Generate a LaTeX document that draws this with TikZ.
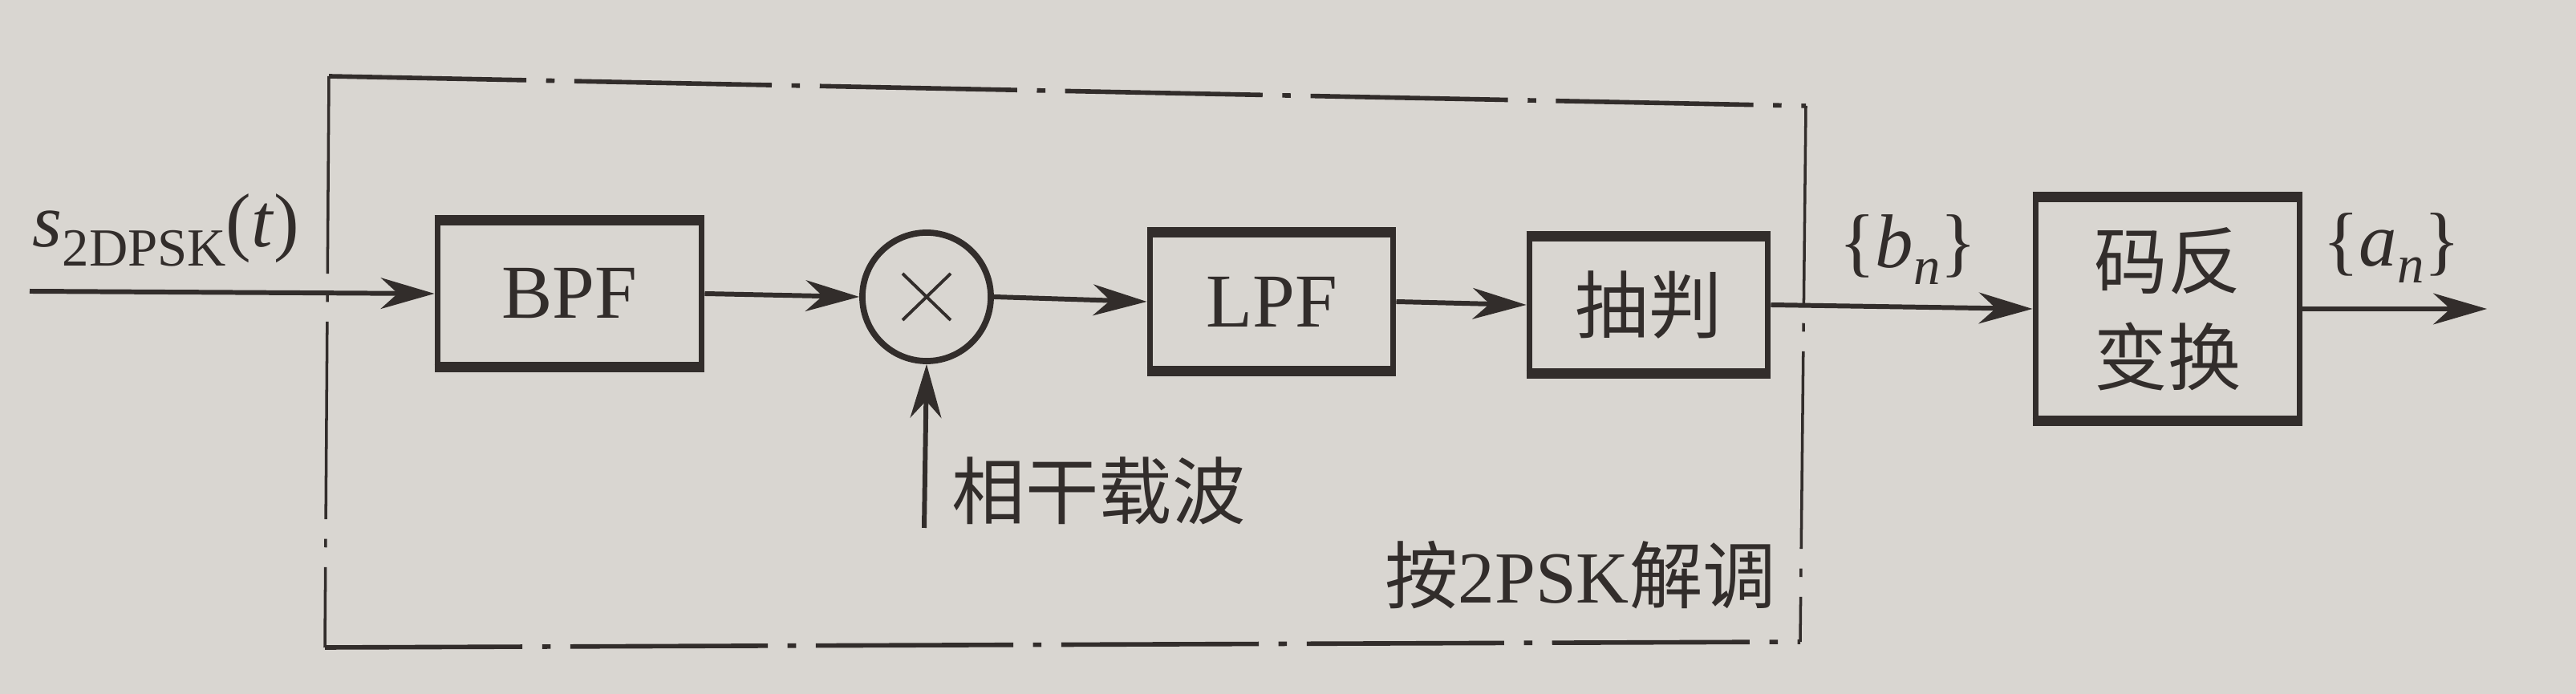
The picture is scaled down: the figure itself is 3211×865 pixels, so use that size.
\documentclass[tikz,border=0pt]{standalone}
\usepackage{fontspec}
\setmainfont{Liberation Serif}
\newfontfamily\cjk{Noto Sans CJK SC}
\usetikzlibrary{arrows.meta}
\definecolor{ink}{RGB}{50,45,43}
\definecolor{paper}{RGB}{217,214,209}
\newcommand{\latf}{\fontsize{27}{32}\selectfont}
\newcommand{\zhf}{\cjk\fontsize{26}{34}\selectfont}
\tikzset{
  blk/.style={draw=ink, line width=2.2pt, text=ink, inner sep=0pt},
  topedge/.style={draw=ink, line width=3pt},
  conn/.style={draw=ink, line width=1.7pt, -{Stealth[length=19pt,width=11pt,inset=6pt]}},
  mulc/.style={circle, draw=ink, line width=2.2pt, minimum size=1.6cm, inner sep=0pt},
  xline/.style={draw=ink, line width=1.1pt},
  lbl/.style={text=ink, inner sep=0pt},
  frameh/.style={draw=ink, line width=1.6pt, dash pattern=on 70pt off 7pt on 3pt off 7pt},
  framev/.style={draw=ink, line width=1pt, dash pattern=on 70pt off 7pt on 3pt off 7pt}
}
\begin{document}
\begin{tikzpicture}[x=0.01cm, y=-0.01cm]
\fill[paper] (0,0) rectangle (3211,865);
\useasboundingbox (0,0) rectangle (3211,865);

% dash-dot frame (2PSK demodulation part)
\coordinate (ftl) at (410,95);
\coordinate (ftr) at (2251,132);
\coordinate (fbr) at (2244,800);
\coordinate (fbl) at (405,807);
\draw[frameh] (ftl) -- (ftr);
\draw[frameh] (fbl) -- (fbr);
\draw[framev] (ftl) -- (fbl);
\draw[framev] (ftr) -- (fbr);

% blocks
\node[blk, minimum width=3.29cm, minimum height=1.78cm, font=\latf] (bpf) at (710,366) {BPF};
\node[mulc] (mul) at (1155,370) {};
\node[blk, minimum width=3.03cm, minimum height=1.67cm, font=\latf] (lpf) at (1585,376) {LPF};
\node[blk, minimum width=2.97cm, minimum height=1.65cm, font=\zhf] (dec) at (2055,380) {抽判};
\node[blk, minimum width=3.29cm, minimum height=2.74cm, font=\zhf, align=center] (conv) at (2702,385) {码反\\变换};

\foreach \n in {bpf,lpf,dec,conv}
  \draw[topedge] (\n.north west) -- (\n.north east) (\n.south west) -- (\n.south east);

% multiplier cross
\draw[xline] (mul.center) ++(-30,-29) -- ++(60,58);
\draw[xline] (mul.center) ++(30,-29) -- ++(-60,58);

% connectors
\coordinate (in) at (37,363);
\coordinate (out) at (3100,385);
\coordinate (car) at (1152,658);
\draw[conn] (in) -- (bpf.west);
\draw[conn] (bpf.east) -- (mul.west);
\draw[conn] (mul.east) -- (lpf.west);
\draw[conn] (lpf.east) -- (dec.west);
\draw[conn] (dec.east) -- (conv.west);
\draw[conn] (conv.east) -- (out);
\draw[conn] (car) -- (mul.south);

% labels
\node[lbl, anchor=base west, font=\latf] (sig) at (40,308)
  {\textit{s}\raisebox{-6.8pt}{\fontsize{19}{20}\selectfont 2DPSK}(\textit{t})};
\node[lbl, font=\latf] (bn) at (2378,311) {\{\textit{b}\raisebox{-6pt}{\fontsize{19}{20}\selectfont\textit{n}}\}};
\node[lbl, font=\latf] (an) at (2981,309) {\{\textit{a}\raisebox{-6pt}{\fontsize{19}{20}\selectfont\textit{n}}\}};
\node[lbl, anchor=west, font=\zhf] (carl) at (1186,612) {相干载波};
\node[lbl, font=\zhf] (demod) at (1970,717) {按{\normalfont\fontsize{26}{34}\selectfont 2PSK}解调};
\end{tikzpicture}
\end{document}
